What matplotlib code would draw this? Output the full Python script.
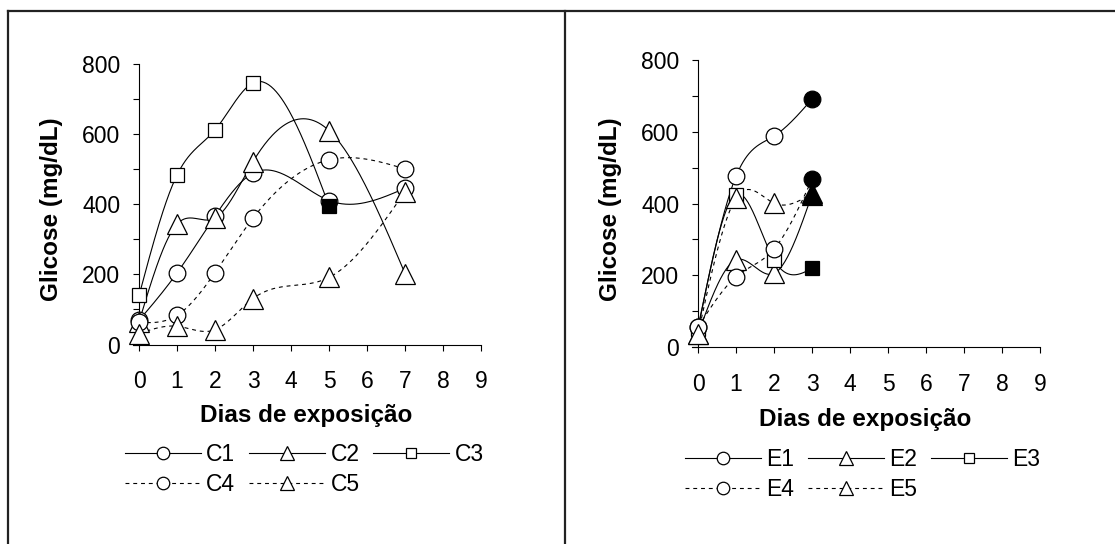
import numpy as np
import matplotlib
matplotlib.use('Agg')
import matplotlib.pyplot as plt
from matplotlib.lines import Line2D
from matplotlib.ticker import MultipleLocator

plt.rcParams['font.family'] = ['Liberation Sans', 'DejaVu Sans']

# ---- data ----
dias_c = [0, 1, 2, 3, 5, 7]
c1 = [69, 204, 366, 488, 410, 445]
c2 = [65, 343, 360, 521, 609, 202]
c3 = [140, 483, 611, 745, 395]          # stops at day 5 (last point filled)
c4 = [63, 83, 205, 360, 526, 500]
c5 = [31, 52, 42, 131, 191, 435]

dias_e = [0, 1, 2, 3]
e1 = [56, 476, 588, 691]
e2 = [37, 243, 205, 425]
e3 = [50, 425, 243, 219]
e4 = [56, 196, 273, 467]
e5 = [37, 415, 401, 428]

nomes_c = ['C1', 'C2', 'C3', 'C4', 'C5']
nomes_e = ['E1', 'E2', 'E3', 'E4', 'E5']
xticks = list(range(10))


def spline(x, y, num=60):
    # natural cubic spline through the points (only for drawing the curve)
    x = np.asarray(x, float)
    y = np.asarray(y, float)
    n = len(x)
    h = np.diff(x)
    A = np.zeros((n, n))
    b = np.zeros(n)
    A[0, 0] = A[-1, -1] = 1
    for i in range(1, n - 1):
        A[i, i - 1] = h[i - 1]
        A[i, i] = 2 * (h[i - 1] + h[i])
        A[i, i + 1] = h[i]
        b[i] = 6 * ((y[i + 1] - y[i]) / h[i] - (y[i] - y[i - 1]) / h[i - 1])
    M = np.linalg.solve(A, b)
    xs, ys = [], []
    for i in range(n - 1):
        t = np.linspace(x[i], x[i + 1], num)
        a = x[i + 1] - t
        c = t - x[i]
        s = (M[i] * a**3 + M[i + 1] * c**3) / (6 * h[i]) \
            + (y[i] / h[i] - M[i] * h[i] / 6) * a \
            + (y[i + 1] / h[i] - M[i + 1] * h[i] / 6) * c
        xs.append(t)
        ys.append(s)
    return np.concatenate(xs), np.concatenate(ys)


estilos = [('-', 'o', 12), ('-', '^', 14), ('-', 's', 9.5),
           ((0, (3.5, 3.5)), 'o', 12), ((0, (3.5, 3.5)), '^', 14)]

fig = plt.figure(figsize=(11.15, 5.44), dpi=100)


def painel(rect, dias, series, nomes, fill_last, leg_pos):
    ax = fig.add_axes(rect)
    for serie, (ls, mk, ms) in zip(series, estilos):
        d = dias[:len(serie)]
        xs, ys = spline(d, serie)
        ax.plot(xs, ys, color='black', lw=0.8, ls=ls, zorder=2)
    for serie, (ls, mk, ms), fl in zip(series, estilos, fill_last):
        d = dias[:len(serie)]
        n = len(serie) - 1 if fl else len(serie)
        ax.plot(d[:n], serie[:n], ls='none', marker=mk, ms=ms, mfc='white',
                mec='black', mew=0.9, zorder=3, clip_on=False)
        if fl:
            ax.plot(d[-1:], serie[-1:], ls='none', marker=mk, ms=ms, mfc='black',
                    mec='black', mew=0.9, zorder=4, clip_on=False)

    ax.set_xlim(-0.16, 9)
    ax.set_ylim(0, 800)
    ax.spines['top'].set_visible(False)
    ax.spines['right'].set_visible(False)
    ax.spines['left'].set_position(('data', 0))
    for s in ['left', 'bottom']:
        ax.spines[s].set_linewidth(0.8)
    ax.set_xticks(xticks)
    ax.yaxis.set_major_locator(MultipleLocator(200))
    ax.yaxis.set_minor_locator(MultipleLocator(100))
    ax.tick_params(which='both', direction='out', length=4.5, width=0.8)
    ax.tick_params(axis='x', labelsize=16.5, pad=14)
    ax.tick_params(axis='y', labelsize=16.5, pad=9)
    ax.set_xlabel('Dias de exposição', fontsize=17.5, fontweight='bold')
    ax.set_ylabel('Glicose (mg/dL)', fontsize=17.5, fontweight='bold')
    ax.xaxis.set_label_coords(0.497, -0.212)
    ax.yaxis.set_label_coords(-0.2, 0.48)

    handles = []
    for (ls, mk, ms), nome in zip(estilos, nomes):
        handles.append(Line2D([], [], color='black', lw=0.8, ls=ls, marker=mk,
                              ms=ms * 0.75, mfc='white', mec='black', mew=0.9,
                              label=nome))
    ordem = [0, 3, 1, 4, 2]
    fig.legend([handles[i] for i in ordem], [nomes[i] for i in ordem],
               loc='upper left', bbox_to_anchor=leg_pos, ncol=3, frameon=False,
               fontsize=16.5, numpoints=1, handlelength=3.3, handletextpad=0.25,
               columnspacing=0.6, labelspacing=0.3, borderpad=0,
               borderaxespad=0)
    return ax


painel([0.1193, 0.3667, 0.3121, 0.5165], dias_c, [c1, c2, c3, c4, c5], nomes_c,
       [False, False, True, False, False], (0.1121, 0.1857))
painel([0.6206, 0.3621, 0.3121, 0.5276], dias_e, [e1, e2, e3, e4, e5], nomes_e,
       [True, True, True, True, True], (0.6143, 0.1765))

# outer frame lines
for xy in [([0.00717, 1.0], [0.9798, 0.9798]),
           ([0.00717, 0.00717], [0.0, 0.9798]),
           ([0.5067, 0.5067], [0.0, 0.9798])]:
    fig.add_artist(Line2D(xy[0], xy[1], color='#222222', lw=1.6,
                          transform=fig.transFigure))

fig.savefig('out.png', dpi=100)
